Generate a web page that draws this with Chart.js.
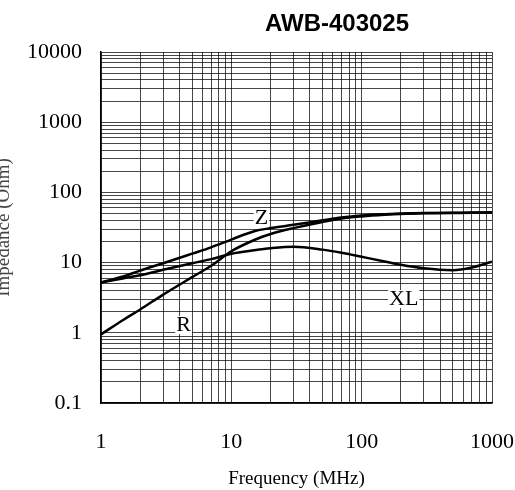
<!DOCTYPE html>
<html>
<head>
<meta charset="utf-8">
<script src="https://cdn.jsdelivr.net/npm/chart.js@4/dist/chart.umd.min.js"></script>
<style>
  html, body { margin: 0; padding: 0; background: #fff; }
  #wrap { width: 515px; height: 490px; }
</style>
</head>
<body>
<div id="wrap"><canvas id="impChart" width="515" height="490"></canvas></div>
<script>
// frequency points (MHz)
var freq = [1, 1.5, 2, 3, 5, 7, 10, 15, 20, 30, 50, 70, 100, 150, 200, 300, 500, 700, 1000];
// impedance curves (Ohm)
var zVals  = [5.2, 6.4, 7.7, 9.8, 13.4, 16.5, 21.3, 28, 31, 34.5, 40, 44, 47, 49, 50, 50.8, 51.2, 51.6, 52];
var rVals  = [0.95, 1.55, 2.15, 3.5, 6.2, 9.0, 14.5, 21, 25.5, 31, 38, 42.5, 45.5, 48, 49.3, 50.3, 50.9, 51.3, 51.7];
var xlVals = [5.2, 6.0, 6.6, 7.9, 9.8, 11.2, 13.4, 15, 16, 16.8, 15.3, 13.8, 12.1, 10.4, 9.3, 8.3, 7.8, 8.5, 10.3];

var xTickLabels = [1, 10, 100, 1000];
var yTickLabels = [0.1, 1, 10, 100, 1000, 10000];

// curve name labels placed at data coordinates
var curveNames = ['Z', 'R', 'XL'];
var nameX = [17, 4.3, 210];
var nameY = [43, 1.29, 3.03];

function toPoints(xs, ys) {
    var pts = [];
    for (var i = 0; i < xs.length; i++) pts.push({x: xs[i], y: ys[i]});
    return pts;
}

// full log grid: 1..9 in every decade
function logTicks(majors) {
    var t = [];
    for (var i = 0; i < majors.length - 1; i++) {
        for (var m = 1; m < 10; m++) t.push({value: +(m * majors[i]).toPrecision(6)});
    }
    t.push({value: majors[majors.length - 1]});
    return t;
}

function curve(label, vals) {
    return {
        label: label,
        data: toPoints(freq, vals),
        borderColor: '#000',
        borderWidth: 2.5,
        pointRadius: 0,
        fill: false,
        cubicInterpolationMode: 'monotone'
    };
}

var gridStyle = {
    color: 'rgba(0,0,0,0.72)',
    lineWidth: 1,
    drawTicks: false
};

var textPlugin = {
    id: 'chartText',
    afterDraw: function (chart) {
        var ctx = chart.ctx;
        var xs = chart.scales.x, ys = chart.scales.y;
        ctx.save();
        ctx.fillStyle = '#000';
        // curve names
        ctx.font = '22px "Liberation Serif", serif';
        ctx.textAlign = 'center';
        ctx.textBaseline = 'middle';
        for (var i = 0; i < curveNames.length; i++) {
            var px = xs.getPixelForValue(nameX[i]);
            var py = ys.getPixelForValue(nameY[i]);
            var w = ctx.measureText(curveNames[i]).width;
            ctx.fillStyle = '#fff';
            ctx.fillRect(px - w / 2 - 1, py - 9, w + 2, 18);
            ctx.fillStyle = '#000';
            ctx.fillText(curveNames[i], px, py);
        }
        // title
        ctx.font = 'bold 24px "Liberation Sans", Arial, sans-serif';
        ctx.fillText('AWB-403025', chart.chartArea.left + 236, 24);
        // y axis title, partly cut at the left edge as in the scan
        ctx.translate(9, (chart.chartArea.top + chart.chartArea.bottom) / 2);
        ctx.rotate(-Math.PI / 2);
        ctx.font = '19px "Liberation Serif", serif';
        ctx.textBaseline = 'alphabetic';
        ctx.fillStyle = '#444';
        ctx.fillText('Impedance (Ohm)', 0, 0);
        ctx.restore();
    }
};

var ctx = document.getElementById('impChart').getContext('2d');
var impChart = new Chart(ctx, {
    type: 'line',
    data: {
        datasets: [
            curve('Z', zVals),
            curve('R', rVals),
            curve('XL', xlVals)
        ]
    },
    options: {
        responsive: false,
        animation: false,
        devicePixelRatio: 1,
        layout: {
            padding: {top: 52, right: 23, left: 0, bottom: 0}
        },
        plugins: {
            legend: {display: false},
            tooltip: {enabled: false}
        },
        scales: {
            x: {
                type: 'logarithmic',
                min: 1,
                max: 1000,
                grid: gridStyle,
                border: {color: '#000', width: 1.5},
                afterBuildTicks: function (scale) {
                    scale.ticks = logTicks(xTickLabels);
                },
                afterFit: function (scale) {
                    scale.height = 87;
                    scale.paddingRight = 0;
                    scale.paddingLeft = 0;
                },
                ticks: {
                    autoSkip: false,
                    maxRotation: 0,
                    padding: 26,
                    color: '#000',
                    font: {family: '"Liberation Serif", serif', size: 22},
                    callback: function (v) {
                        return xTickLabels.indexOf(v) >= 0 ? String(v) : '';
                    }
                },
                title: {
                    display: true,
                    text: 'Frequency (MHz)',
                    color: '#000',
                    font: {family: '"Liberation Serif", serif', size: 19},
                    padding: {top: 0, bottom: 0}
                }
            },
            y: {
                type: 'logarithmic',
                min: 0.1,
                max: 10000,
                grid: gridStyle,
                border: {color: '#000', width: 1.5},
                afterBuildTicks: function (scale) {
                    scale.ticks = logTicks(yTickLabels);
                },
                afterFit: function (scale) {
                    scale.width = 101;
                    scale.paddingTop = 0;
                    scale.paddingBottom = 0;
                },
                ticks: {
                    autoSkip: false,
                    padding: 19,
                    color: '#000',
                    font: {family: '"Liberation Serif", serif', size: 22},
                    callback: function (v) {
                        return yTickLabels.indexOf(v) >= 0 ? String(v) : '';
                    }
                }
            }
        }
    },
    plugins: [textPlugin]
});
</script>
</body>
</html>
